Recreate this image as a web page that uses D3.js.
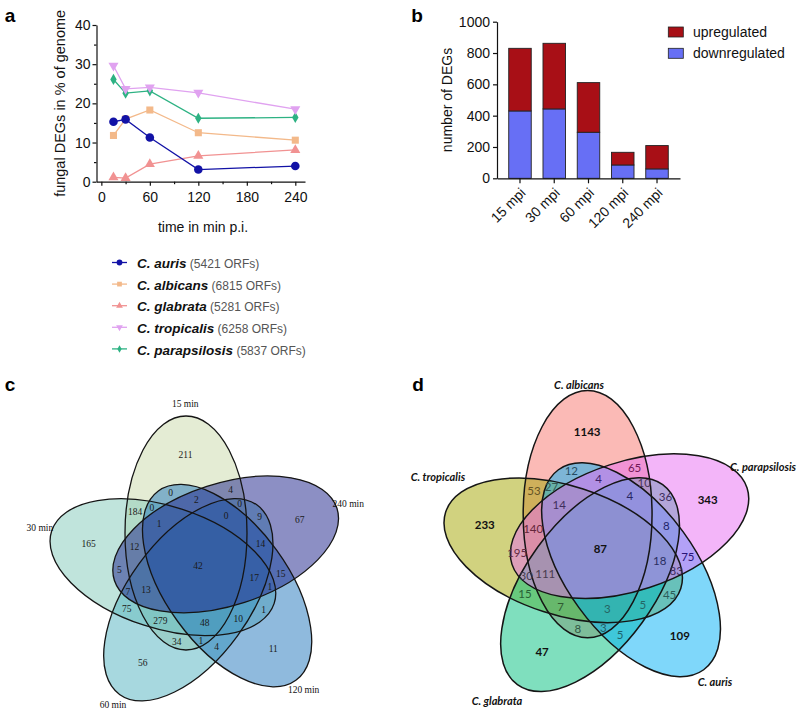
<!DOCTYPE html>
<html><head><meta charset="utf-8">
<script src="https://cdn.jsdelivr.net/npm/d3@7"></script>
<style>body{margin:0;background:#fff}svg{display:block}</style>
</head><body>
<svg id="fig" width="800" height="715"></svg>
<script>
// ---------- Panel a data ----------
const timesMin = [15, 30, 60, 120, 240];
const speciesNames = ["C. auris", "C. albicans", "C. glabrata", "C. tropicalis", "C. parapsilosis"];
const speciesOrfs = ["(5421 ORFs)", "(6815 ORFs)", "(5281 ORFs)", "(6258 ORFs)", "(5837 ORFs)"];
const aurisPct = [15.3, 15.9, 11.3, 3.1, 4.0];
const albicansPct = [11.8, 16.0, 18.3, 12.5, 10.6];
const glabrataPct = [1.1, 0.9, 4.5, 6.6, 8.1];
const tropicalisPct = [29.6, 23.7, 24.1, 22.7, 18.5];
const parapsilosisPct = [26.1, 22.6, 23.2, 16.2, 16.4];
const aTicksY = [0, 10, 20, 30, 40];
const aMinorY = [5, 15, 25, 35];
const aTicksX = [0, 60, 120, 180, 240];
const aMinorX = [30, 90, 150, 210];

// ---------- Panel b data ----------
const mpiLabels = ["15 mpi", "30 mpi", "60 mpi", "120 mpi", "240 mpi"];
const downregulated = [430, 443, 294, 85, 60];
const upregulated = [400, 419, 317, 81, 149];
const bTicksY = [0, 200, 400, 600, 800, 1000];

// ---------- Panel c data (5-set Venn, time points) ----------
const timeSets = ["15 min", "30 min", "60 min", "120 min", "240 min"];
const timeRegions = [
  "15 min", "240 min", "120 min", "60 min", "30 min",
  "15 min & 240 min & 120 min", "240 min & 120 min & 60 min", "120 min & 60 min & 30 min", "60 min & 30 min & 15 min", "30 min & 15 min & 240 min",
  "15 min & 240 min & 120 min & 60 min", "240 min & 120 min & 60 min & 30 min", "120 min & 60 min & 30 min & 15 min", "60 min & 30 min & 15 min & 240 min", "30 min & 15 min & 240 min & 120 min",
  "15 min & 120 min", "240 min & 60 min", "120 min & 30 min", "60 min & 15 min", "30 min & 240 min",
  "15 min & 240 min", "240 min & 120 min", "120 min & 60 min", "60 min & 30 min", "30 min & 15 min",
  "15 min & 240 min & 60 min", "240 min & 120 min & 30 min", "120 min & 60 min & 15 min", "60 min & 30 min & 240 min", "30 min & 15 min & 120 min",
  "15 min & 30 min & 60 min & 120 min & 240 min"
];
const timeCounts = [
  211, 67, 11, 56, 165,
  2, 14, 10, 279, 12,
  0, 17, 48, 13, 1,
  0, 9, 1, 34, 5,
  4, 15, 4, 75, 184,
  0, 1, 1, 7, 0,
  42
];

// ---------- Panel d data (5-set Venn, species) ----------
const speciesSets = ["C. albicans", "C. tropicalis", "C. glabrata", "C. auris", "C. parapsilosis"];
const speciesRegions = [
  "C. albicans", "C. parapsilosis", "C. auris", "C. glabrata", "C. tropicalis",
  "C. albicans & C. parapsilosis & C. auris", "C. parapsilosis & C. auris & C. glabrata", "C. auris & C. glabrata & C. tropicalis", "C. glabrata & C. tropicalis & C. albicans", "C. tropicalis & C. albicans & C. parapsilosis",
  "C. albicans & C. parapsilosis & C. auris & C. glabrata", "C. parapsilosis & C. auris & C. glabrata & C. tropicalis", "C. auris & C. glabrata & C. tropicalis & C. albicans", "C. glabrata & C. tropicalis & C. albicans & C. parapsilosis", "C. tropicalis & C. albicans & C. parapsilosis & C. auris",
  "C. albicans & C. auris", "C. parapsilosis & C. glabrata", "C. auris & C. tropicalis", "C. glabrata & C. albicans", "C. tropicalis & C. parapsilosis",
  "C. albicans & C. parapsilosis", "C. parapsilosis & C. auris", "C. auris & C. glabrata", "C. glabrata & C. tropicalis", "C. tropicalis & C. albicans",
  "C. albicans & C. parapsilosis & C. glabrata", "C. parapsilosis & C. auris & C. tropicalis", "C. auris & C. glabrata & C. albicans", "C. glabrata & C. tropicalis & C. parapsilosis", "C. tropicalis & C. albicans & C. auris",
  "C. albicans & C. tropicalis & C. glabrata & C. auris & C. parapsilosis"
];
const speciesCounts = [
  1143, 343, 109, 47, 233,
  4, 8, 5, 7, 140,
  4, 18, 3, 111, 14,
  12, 36, 45, 8, 195,
  65, 75, 5, 15, 53,
  10, 83, 3, 30, 27,
  87
];

// =================================================================
const svg = d3.select("#fig");
const SANS = "'Liberation Sans', Arial, sans-serif";

// panel letters
[["a", 10, 22], ["b", 417, 22], ["c", 10, 391], ["d", 418, 391]].forEach(([t, x, y]) => {
  svg.append("text").attr("x", x).attr("y", y).attr("text-anchor", "middle")
    .style("font-family", SANS).style("font-weight", "bold").style("font-size", "19px").text(t);
});

// ---------------- Panel a ----------------
(function () {
  const g = svg.append("g");
  const x = d3.scaleLinear().domain([-6, 252]).range([96.5, 305]);
  const y = d3.scaleLinear().domain([0, 40]).range([181.7, 25]);

  const styleAxis = sel => {
    sel.selectAll("path,line").attr("stroke", "#111").attr("stroke-width", 1.2);
    sel.selectAll("text").style("font-family", SANS).style("font-size", "14px").attr("fill", "#111");
  };
  g.append("g").attr("transform", `translate(${x.range()[0]},0)`)
    .call(d3.axisLeft(y).tickValues(aTicksY).tickSize(4).tickPadding(2).tickSizeOuter(0)).call(styleAxis);
  g.append("g").attr("transform", `translate(${x.range()[0]},0)`)
    .call(d3.axisLeft(y).tickValues(aMinorY).tickSize(2.5).tickFormat("")).call(styleAxis)
    .select(".domain").remove();
  g.append("g").attr("transform", `translate(0,${y(0)})`)
    .call(d3.axisBottom(x).tickValues(aTicksX).tickSize(4).tickPadding(6).tickSizeOuter(0)).call(styleAxis);
  g.append("g").attr("transform", `translate(0,${y(0)})`)
    .call(d3.axisBottom(x).tickValues(aMinorX).tickSize(2.5).tickFormat("")).call(styleAxis)
    .select(".domain").remove();

  g.append("text").attr("transform", `translate(60,${(y(0) + y(40)) / 2}) rotate(-90)`)
    .attr("text-anchor", "middle").attr("dy", "0.35em")
    .style("font-family", SANS).style("font-size", "14.5px").attr("fill", "#111")
    .text("fungal DEGs in % of genome");
  g.append("text").attr("x", 203).attr("y", 227).attr("dy", "0.35em").attr("text-anchor", "middle")
    .style("font-family", SANS).style("font-size", "14px").attr("fill", "#111")
    .text("time in min p.i.");

  const series = [aurisPct, albicansPct, glabrataPct, tropicalisPct, parapsilosisPct];
  const colors = ["#1212a6", "#f3b98a", "#f19292", "#e0a2f0", "#2db283"];
  const symbols = [
    { type: d3.symbolCircle, size: 58, rot: 0 },
    { type: d3.symbolSquare, size: 50, rot: 0 },
    { type: d3.symbolTriangle, size: 44, rot: 0 },
    { type: d3.symbolTriangle, size: 44, rot: 180 },
    { type: d3.symbolDiamond, size: 36, rot: 0 }
  ];
  const line = d3.line().x((d, i) => x(timesMin[i])).y(d => y(d));
  const drawOrder = [4, 3, 2, 1, 0];
  drawOrder.forEach(si => {
    g.append("path").datum(series[si]).attr("d", line).attr("fill", "none")
      .attr("stroke", colors[si]).attr("stroke-width", 1.3);
  });
  drawOrder.forEach(si => {
    g.selectAll(null).data(series[si]).join("path")
      .attr("transform", (d, i) => `translate(${x(timesMin[i])},${y(d)}) rotate(${symbols[si].rot})`)
      .attr("d", d3.symbol().type(symbols[si].type).size(symbols[si].size))
      .attr("fill", colors[si]);
  });

  // legend
  const lg = g.append("g");
  speciesNames.forEach((nm, i) => {
    const yy = 262.5 + i * 21.6;
    lg.append("line").attr("x1", 112).attr("x2", 127).attr("y1", yy).attr("y2", yy)
      .attr("stroke", colors[i]).attr("stroke-width", 1.3);
    lg.append("path").attr("transform", `translate(119.5,${yy}) rotate(${symbols[i].rot})`)
      .attr("d", d3.symbol().type(symbols[i].type).size(symbols[i].size * 0.45)).attr("fill", colors[i]);
    const t = lg.append("text").attr("x", 137).attr("y", yy).attr("dy", "0.35em").style("font-family", SANS);
    t.append("tspan").style("font-weight", "bold").style("font-style", "italic").style("font-size", "13.5px")
      .attr("fill", "#111").text(nm);
    t.append("tspan").style("font-size", "12px").attr("fill", "#555").text(" " + speciesOrfs[i]);
  });
})();

// ---------------- Panel b ----------------
(function () {
  const g = svg.append("g");
  const x = d3.scaleBand().domain(mpiLabels).range([497, 680]).paddingInner(0.343).paddingOuter(0.3425);
  const y = d3.scaleLinear().domain([0, 1000]).range([178.3, 21.7]);
  const rows = mpiLabels.map((m, i) => ({ m, down: downregulated[i], up: upregulated[i] }));
  const stack = d3.stack().keys(["down", "up"])(rows);
  const fills = { down: "#676ff5", up: "#a80f16" };
  stack.forEach(layer => {
    g.selectAll(null).data(layer).join("rect")
      .attr("x", d => x(d.data.m)).attr("width", x.bandwidth())
      .attr("y", d => y(d[1])).attr("height", d => y(d[0]) - y(d[1]))
      .attr("fill", fills[layer.key]).attr("stroke", "#222").attr("stroke-width", 0.9);
  });
  const styleAxis = sel => {
    sel.selectAll("path,line").attr("stroke", "#111").attr("stroke-width", 1.2);
    sel.selectAll("text").style("font-family", SANS).style("font-size", "14px").attr("fill", "#111");
  };
  g.append("g").attr("transform", `translate(${x.range()[0]},0)`)
    .call(d3.axisLeft(y).tickValues(bTicksY).tickFormat(d3.format("d")).tickSize(4).tickPadding(3).tickSizeOuter(0))
    .call(styleAxis);
  const xa = g.append("g").attr("transform", `translate(0,${y(0)})`)
    .call(d3.axisBottom(x).tickSize(5).tickSizeOuter(0)).call(styleAxis);
  xa.selectAll("text").attr("y", 0).attr("dy", "0.35em")
    .attr("transform", "translate(3,12) rotate(-45)").style("text-anchor", "end");

  g.append("text").attr("transform", `translate(447,${(y(0) + y(1000)) / 2}) rotate(-90)`)
    .attr("text-anchor", "middle").attr("dy", "0.35em")
    .style("font-family", SANS).style("font-size", "14px").attr("fill", "#111").text("number of DEGs");

  const leg = [["upregulated", fills.up], ["downregulated", fills.down]];
  leg.forEach(([t, c], i) => {
    const yy = 32 + i * 21.3;
    g.append("rect").attr("x", 668.3).attr("y", yy - 5).attr("width", 15).attr("height", 10)
      .attr("fill", c).attr("stroke", "#222").attr("stroke-width", 0.8);
    g.append("text").attr("x", 693).attr("y", yy).attr("dy", "0.35em")
      .style("font-family", SANS).style("font-size", "14px").attr("fill", "#111").text(t);
  });
})();

// ---------------- Venn helper ----------------
function drawVenn(sets, regions, counts, opt) {
  const g = svg.append("g");
  const n = sets.length;
  const ratio = 61 / 117;                 // minor / major semi-axis
  const off = [-12 / 117, -33 / 117];     // centre offset of first ellipse (major-axis units)
  const sx = d3.scaleLinear().domain([-1, 1]).range([opt.cx - opt.a, opt.cx + opt.a]);
  const sy = d3.scaleLinear().domain([-1, 1]).range([opt.cy - opt.a, opt.cy + opt.a]);
  const rad = Math.PI / 180;
  const posIndex = j => (n - j) % n;      // sets go counter-clockwise starting at top
  const axisAngle = k => -90 + 72 * k;
  const rot = (p, deg) => [p[0] * Math.cos(deg * rad) - p[1] * Math.sin(deg * rad),
                           p[0] * Math.sin(deg * rad) + p[1] * Math.cos(deg * rad)];
  const ell = sets.map((s, j) => {
    const k = posIndex(j), c = rot(off, 72 * k);
    return { name: s, j, k, ux: c[0], uy: c[1], ang: axisAngle(k) };
  });
  const rx = sx(1) - sx(0), ry = rx * ratio;
  g.selectAll("ellipse.f").data(ell).join("ellipse").attr("class", "f")
    .attr("cx", d => sx(d.ux)).attr("cy", d => sy(d.uy)).attr("rx", rx).attr("ry", ry)
    .attr("transform", d => `rotate(${d.ang},${sx(d.ux)},${sy(d.uy)})`)
    .attr("fill", d => opt.fills[d.j]).attr("fill-opacity", opt.alpha);
  g.selectAll("ellipse.o").data(ell).join("ellipse").attr("class", "o")
    .attr("cx", d => sx(d.ux)).attr("cy", d => sy(d.uy)).attr("rx", rx).attr("ry", ry)
    .attr("transform", d => `rotate(${d.ang},${sx(d.ux)},${sy(d.uy)})`)
    .attr("fill", "none").attr("stroke", "#151515").attr("stroke-width", opt.stroke);

  // region label layout by region type (relative to the rotated ellipse frame)
  const patterns = [
    { p: [0], da: -6.4, r: 0.954 },
    { p: [0, 1], da: 23, r: 0.711 },
    { p: [0, 2], da: -20.4, r: 0.673 },
    { p: [0, 1, 2], da: -1.4, r: 0.567 },
    { p: [0, 1, 3], da: 33.8, r: 0.639 },
    { p: [0, 1, 2, 3], da: 29.3, r: 0.49 }
  ];
  const num = (a, b) => a - b;
  function labelPos(ks) {
    if (ks.length === n) return [0, 0];
    const key = ks.slice().sort(num).join(",");
    for (const pat of patterns) for (let k = 0; k < n; k++) {
      if (pat.p.map(v => (v + k) % n).sort(num).join(",") === key) {
        const a = (axisAngle(k) + pat.da) * rad;
        return [pat.r * Math.cos(a), pat.r * Math.sin(a)];
      }
    }
    return [0, 0];
  }
  function composite(js) {
    let c = [255, 255, 255];
    for (let j = 0; j < n; j++) if (js.includes(j)) {
      const f = d3.rgb(opt.fills[j]);
      c = [c[0] * (1 - opt.alpha) + f.r * opt.alpha, c[1] * (1 - opt.alpha) + f.g * opt.alpha, c[2] * (1 - opt.alpha) + f.b * opt.alpha];
    }
    return d3.rgb(c[0], c[1], c[2]);
  }
  regions.forEach((key, i) => {
    const js = key.split(" & ").map(nm => sets.indexOf(nm));
    const ks = js.map(posIndex);
    const p = labelPos(ks);
    const strong = js.length === 1 || js.length === n;
    let fill = opt.numColor;
    if (opt.colorNumbers && !strong) {
      const h = d3.hsl(composite(js)); h.l = 0.27; h.s = Math.min(1, h.s * 0.85); fill = h.formatHex();
    }
    g.append("text").attr("x", sx(p[0])).attr("y", sy(p[1])).attr("dy", "0.35em").attr("text-anchor", "middle")
      .style("font-family", opt.numFont).style("font-size", opt.numSize)
      .style("font-weight", opt.boldStrong && strong ? "bold" : "normal")
      .attr("fill", fill).text(counts[i]);
  });
  ell.forEach(e => {
    const cp = opt.catPos[e.j];
    const a = (axisAngle(e.k) + cp[0]) * rad;
    g.append("text").attr("x", sx(cp[1] * Math.cos(a))).attr("y", sy(cp[1] * Math.sin(a)))
      .attr("dy", "0.35em").attr("text-anchor", "middle")
      .style("font-family", opt.catFont).style("font-size", opt.catSize)
      .style("font-weight", opt.catWeight).style("font-style", opt.catStyle)
      .attr("fill", "#111").text(e.name);
  });
}

// ---------------- Panel c ----------------
drawVenn(timeSets, timeRegions, timeCounts, {
  cx: 198, cy: 566, a: 117, alpha: 0.5, stroke: 1.3,
  fills: ["#c9d9a9", "#81c9b9", "#4fb1bf", "#1f75bb", "#191f89"],
  numFont: "'Liberation Serif', 'Times New Roman', serif", numSize: "9.5px", numColor: "#1a1a1a",
  colorNumbers: false, boldStrong: false,
  catFont: "'Liberation Serif', 'Times New Roman', serif", catSize: "9.5px", catWeight: "normal", catStyle: "normal",
  catPos: [[-4.5, 1.39], [-4.5, 1.39], [-4.5, 1.39], [-4.5, 1.39], [-4.5, 1.39]]
});

// ---------------- Panel d ----------------
drawVenn(speciesSets, speciesRegions, speciesCounts, {
  cx: 600.3, cy: 549, a: 123.6, alpha: 0.5, stroke: 1.5,
  fills: ["#F8766D", "#A3A500", "#00BF7D", "#00B0F6", "#E76BF3"],
  numFont: "Lato, 'Open Sans', sans-serif", numSize: "11.5px", numColor: "#111",
  colorNumbers: true, boldStrong: true,
  catFont: "Lato, 'Open Sans', sans-serif", catSize: "11px", catWeight: "bold", catStyle: "italic",
  catPos: [[-7.4, 1.338], [5.9, 1.437], [-1.8, 1.487], [-4.8, 1.42], [-8.7, 1.474]]
});
</script>
</body></html>
